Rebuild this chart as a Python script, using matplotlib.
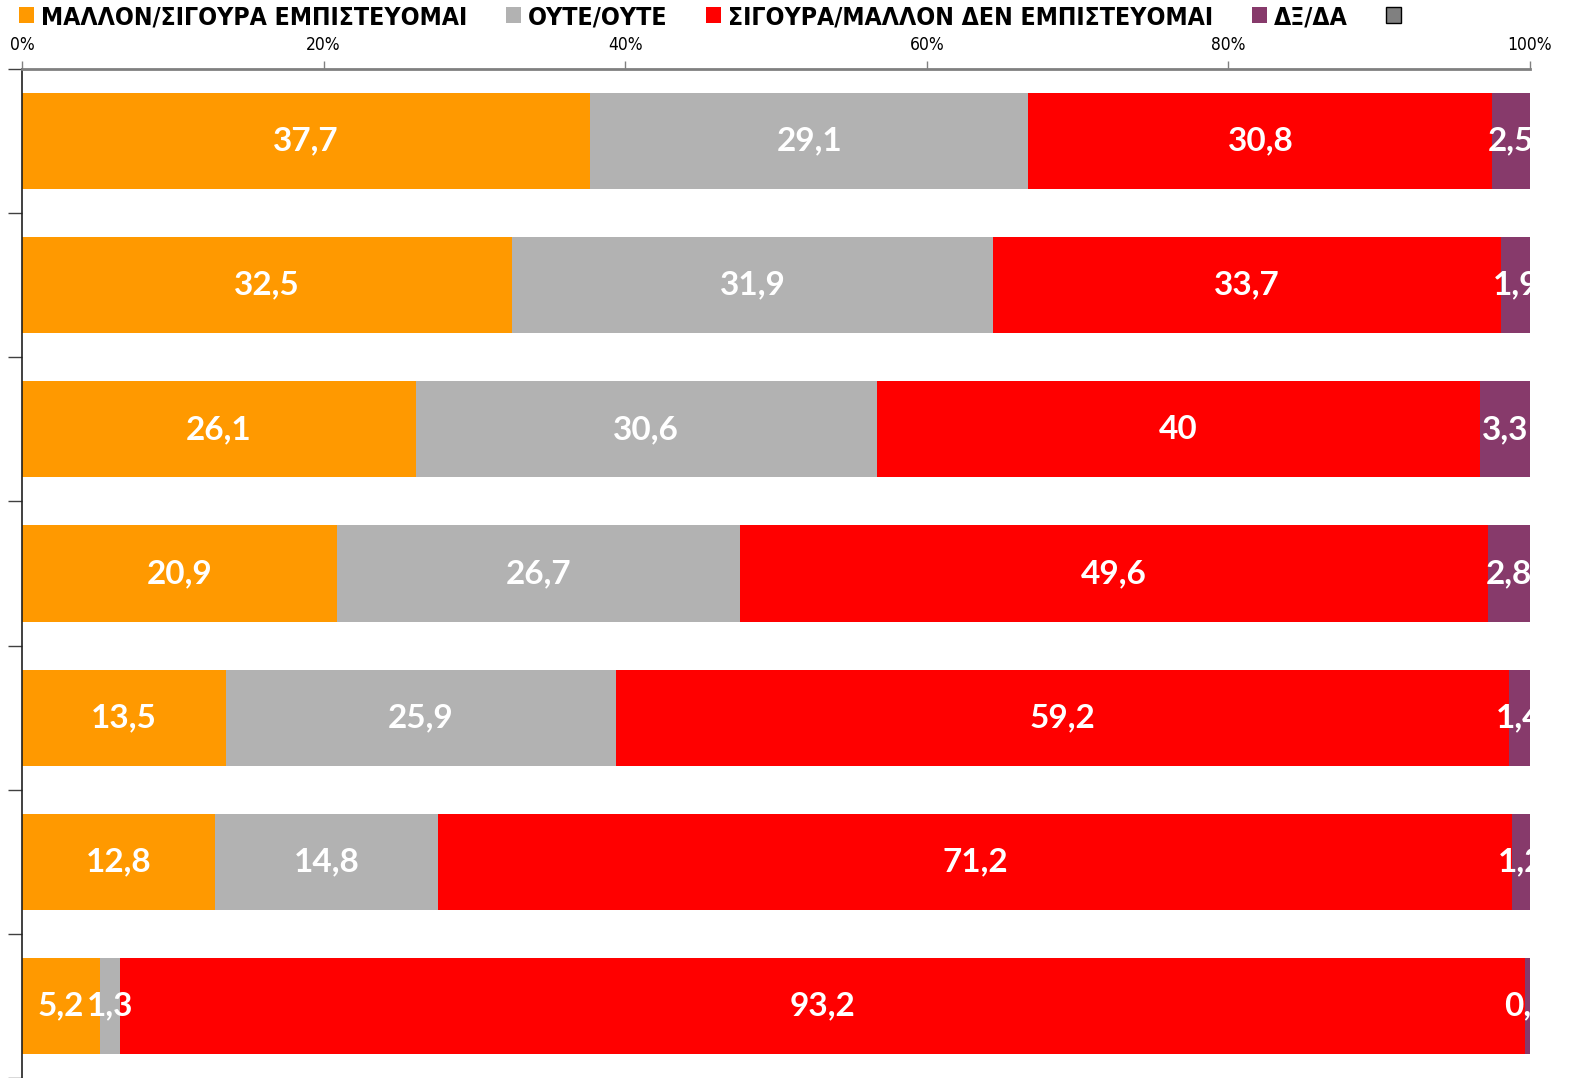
import matplotlib
matplotlib.use("Agg")
import matplotlib.pyplot as plt
import numpy as np
from matplotlib.patches import Patch
from matplotlib import font_manager as fm

categories = ["1", "2", "3", "4", "5", "6", "7"]
series_names = ["ΜΑΛΛΟΝ/ΣΙΓΟΥΡΑ ΕΜΠΙΣΤΕΥΟΜΑΙ", "ΟΥΤΕ/ΟΥΤΕ",
                "ΣΙΓΟΥΡΑ/ΜΑΛΛΟΝ ΔΕΝ ΕΜΠΙΣΤΕΥΟΜΑΙ", "ΔΞ/ΔΑ", ""]
trust = [37.7, 32.5, 26.1, 20.9, 13.5, 12.8, 5.2]
neither = [29.1, 31.9, 30.6, 26.7, 25.9, 14.8, 1.3]
distrust = [30.8, 33.7, 40.0, 49.6, 59.2, 71.2, 93.2]
dkna = [2.5, 1.9, 3.3, 2.8, 1.4, 1.2, 0.3]
other = [0, 0, 0, 0, 0, 0, 0]
label_texts = [
    ["37,7", "32,5", "26,1", "20,9", "13,5", "12,8", "5,2"],
    ["29,1", "31,9", "30,6", "26,7", "25,9", "14,8", "1,3"],
    ["30,8", "33,7", "40", "49,6", "59,2", "71,2", "93,2"],
    ["2,5", "1,9", "3,3", "2,8", "1,4", "1,2", "0,3"],
]
xticks = [0, 20, 40, 60, 80, 100]
xtick_labels = ["0%", "20%", "40%", "60%", "80%", "100%"]

colors = ["#FF9900", "#B2B2B2", "#FF0000", "#873A6B", "#808080"]

names = {f.name for f in fm.fontManager.ttflist}
lab_font = "Lato" if "Lato" in names else "DejaVu Sans"
tick_font = "DejaVu Sans"

data = np.array([trust, neither, distrust, dkna, other], dtype=float)
totals = data.sum(axis=0)
pct = data / totals * 100

fig = plt.figure(figsize=(15.76, 10.78), dpi=100)
ax = fig.add_axes([22 / 1576, 0.0, (1530 - 22) / 1576, 1009 / 1078])

y = np.arange(len(categories))
left = np.zeros(len(categories))
for i in range(5):
    bars = ax.barh(y, pct[i], left=left, height=0.667, color=colors[i],
                   edgecolor="none", label=series_names[i])
    if i < 4:
        for j, b in enumerate(bars):
            cx = left[j] + pct[i][j] / 2
            ax.text(cx, y[j], label_texts[i][j], ha="center", va="center",
                    color="white", fontsize=24, fontweight="bold",
                    family=lab_font, clip_on=True)
    left += pct[i]

ax.set_xlim(0, 100)
ax.set_ylim(len(categories) - 0.5, -0.5)
ax.xaxis.tick_top()
ax.set_xticks(xticks)
ax.set_xticklabels(xtick_labels, family=tick_font, fontsize=12.5, fontstretch="condensed")
ax.tick_params(axis="x", direction="out", length=6, width=1, color="#808080", pad=5)
ax.set_yticks(np.arange(-0.5, len(categories), 1.0))
ax.set_yticklabels([])
ax.tick_params(axis="y", direction="out", length=10, width=1, color="#404040")
for s in ["right", "bottom"]:
    ax.spines[s].set_visible(False)
ax.spines["top"].set_color("#808080")
ax.spines["top"].set_linewidth(2)
ax.spines["left"].set_color("#202020")
ax.spines["left"].set_linewidth(1.2)

handles = [Patch(facecolor=colors[k], edgecolor=("black" if k == 4 else "none"),
                 linewidth=1) for k in range(5)]
leg = fig.legend(handles, series_names, loc="upper left", bbox_to_anchor=(-0.002, 1.016),
                 ncol=5, frameon=False, handlelength=0.6, handleheight=0.6,
                 handletextpad=0.3, columnspacing=1.55,
                 prop={"family": tick_font, "weight": "bold", "size": 17.8,
                       "stretch": "condensed"})

fig.savefig("out.png", dpi=100)
